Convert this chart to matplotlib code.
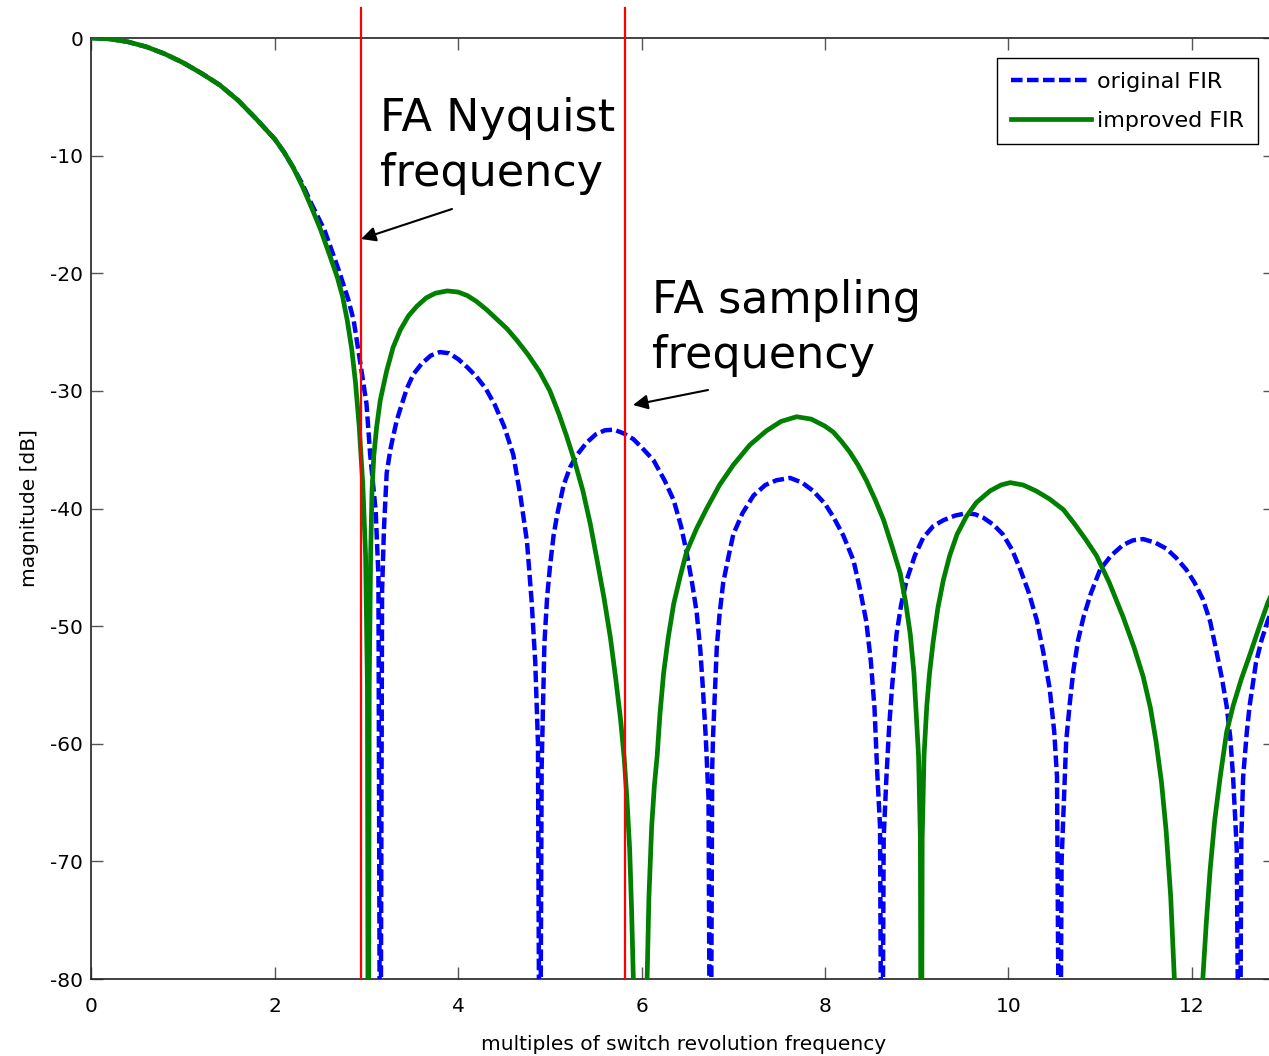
import matplotlib
matplotlib.use("Agg")
import matplotlib.pyplot as plt

# ---------------- data ----------------
orig_x = [0.0, 0.2, 0.4, 0.6, 0.8, 1.0, 1.2, 1.4, 1.6, 1.8, 2.0, 2.1, 2.2, 2.3, 2.4, 2.54,
          2.6, 2.7, 2.8, 2.86, 2.93, 3.00, 3.04, 3.10, 3.13, 3.15,
          3.17, 3.19, 3.22, 3.26, 3.29, 3.33, 3.37, 3.44, 3.51, 3.6, 3.7, 3.8, 3.9, 4.0, 4.1,
          4.2, 4.3, 4.4, 4.5, 4.6, 4.68, 4.75, 4.80, 4.84, 4.87, 4.89,
          4.91, 4.94, 4.97, 5.00, 5.04, 5.08, 5.15, 5.22, 5.29, 5.4, 5.5, 5.6, 5.7, 5.8, 5.91,
          6.0, 6.13, 6.25, 6.35, 6.43, 6.49, 6.55, 6.60, 6.64, 6.67, 6.70, 6.73, 6.75,
          6.77, 6.78, 6.82, 6.85, 6.89, 6.95, 7.00, 7.1, 7.22, 7.35, 7.47, 7.62, 7.75, 7.87,
          8.0, 8.09, 8.2, 8.31, 8.38, 8.45, 8.50, 8.54, 8.57, 8.60, 8.62,
          8.64, 8.67, 8.70, 8.73, 8.78, 8.83, 8.89, 8.98, 9.07, 9.18, 9.29, 9.42, 9.54, 9.64,
          9.73, 9.84, 9.94, 10.04, 10.13, 10.22, 10.31, 10.38, 10.45, 10.50, 10.53, 10.56,
          10.58, 10.60, 10.63, 10.67, 10.71, 10.76, 10.82, 10.9, 11.00, 11.12, 11.25, 11.36,
          11.47, 11.6, 11.72, 11.83, 11.94, 12.03, 12.12, 12.2, 12.27, 12.33, 12.38, 12.42,
          12.45, 12.49, 12.52,
          12.54, 12.56, 12.60, 12.63, 12.67, 12.70, 12.76, 12.83, 12.91]
orig_db = [0.0, -0.08, -0.33, -0.75, -1.35, -2.1, -3.0, -4.0, -5.3, -6.9, -8.6, -9.7, -11.0,
           -12.4, -14.1, -16.3, -17.6, -19.8, -22.2, -24.0, -27.5, -31.1, -35.4, -40.2, -45.7,
           -100.0,
           -47.0, -41.8, -37.0, -35.0, -33.9, -32.5, -31.5, -29.8, -28.6, -27.7, -27.0, -26.7,
           -26.8, -27.3, -28.0, -28.8, -29.8, -31.2, -33.0, -35.4, -39.0, -42.8, -47.8, -53.0,
           -60.0, -100.0,
           -62.0, -51.5, -47.5, -45.0, -42.3, -40.5, -38.0, -36.5, -35.5, -34.4, -33.7, -33.35,
           -33.3, -33.6, -34.1, -34.8, -35.9, -37.6, -39.3, -41.5, -43.7, -46.3, -48.8, -52.0,
           -55.5, -59.5, -64.7, -100.0,
           -62.0, -59.2, -51.8, -49.0, -46.3, -44.0, -42.2, -40.4, -38.9, -38.0, -37.6, -37.4,
           -37.8, -38.5, -39.6, -40.7, -42.3, -44.4, -46.8, -49.6, -53.0, -57.0, -62.5, -67.0,
           -100.0,
           -68.0, -62.8, -58.5, -55.3, -50.7, -48.2, -46.1, -44.0, -42.5, -41.5, -41.0, -40.6,
           -40.4, -40.5, -40.8, -41.4, -42.2, -43.5, -45.2, -47.1, -49.5, -52.2, -55.3, -59.0,
           -62.8, -100.0,
           -70.0, -65.9, -59.8, -56.5, -53.7, -51.2, -49.2, -47.2, -45.2, -44.0, -43.1, -42.7,
           -42.6, -42.9, -43.4, -44.2, -45.2, -46.3, -47.7, -49.6, -52.2, -54.5, -56.8, -59.5,
           -62.8, -68.9, -100.0,
           -68.0, -62.8, -59.0, -56.8, -54.7, -53.1, -51.2, -49.5, -48.0]

impr_x = [0.0, 0.2, 0.4, 0.6, 0.8, 1.0, 1.2, 1.4, 1.6, 1.8, 2.0, 2.1, 2.2, 2.3, 2.4, 2.5,
          2.6, 2.68, 2.74, 2.79, 2.84, 2.88, 2.92, 2.96, 2.99, 3.01, 3.02,
          3.03, 3.045, 3.06, 3.08, 3.11, 3.15, 3.22, 3.29, 3.37, 3.46, 3.55, 3.65, 3.75, 3.88,
          4.0, 4.1, 4.2, 4.31, 4.42, 4.53, 4.64, 4.76, 4.89, 5.0, 5.1, 5.18, 5.27, 5.36, 5.44,
          5.51, 5.59, 5.66, 5.72, 5.77, 5.81, 5.84, 5.87, 5.89, 5.91, 5.98,
          6.06, 6.08, 6.11, 6.14, 6.17, 6.2, 6.24, 6.29, 6.35, 6.42, 6.49, 6.6, 6.71, 6.85,
          7.0, 7.18, 7.36, 7.52, 7.69, 7.85, 8.0, 8.09, 8.18, 8.27, 8.36, 8.45, 8.55, 8.64,
          8.73, 8.82, 8.88, 8.93, 8.97, 8.99, 9.02, 9.04, 9.05,
          9.06, 9.08, 9.11, 9.14, 9.18, 9.23, 9.29, 9.36, 9.44, 9.54, 9.65, 9.8, 9.92, 10.02,
          10.16, 10.3, 10.45, 10.60, 10.72, 10.84, 10.96, 11.1, 11.25, 11.37, 11.47, 11.55,
          11.61, 11.67, 11.72, 11.77, 11.81, 11.96,
          12.12, 12.16, 12.20, 12.25, 12.31, 12.38, 12.45, 12.54, 12.63, 12.73, 12.83, 12.91]
impr_db = [0.0, -0.08, -0.33, -0.75, -1.35, -2.1, -3.0, -4.0, -5.3, -6.9, -8.6, -9.7, -11.0,
           -12.6, -14.4, -16.3, -18.5, -20.3, -22.0, -24.0, -26.5, -29.3, -33.0, -38.0, -44.0,
           -55.0, -100.0,
           -55.0, -44.0, -38.5, -35.5, -33.1, -30.8, -28.3, -26.3, -24.8, -23.6, -22.8, -22.1,
           -21.7, -21.5, -21.6, -21.9, -22.4, -23.1, -23.9, -24.7, -25.7, -26.9, -28.4, -30.0,
           -32.0, -33.8, -36.0, -38.5, -41.3, -44.2, -47.6, -51.0, -54.6, -57.9, -61.2, -64.7,
           -69.0, -73.9, -80.0, -100.0,
           -80.0, -73.0, -67.0, -63.5, -61.0, -57.5, -54.0, -51.0, -48.1, -45.8, -43.7, -41.7,
           -40.0, -38.0, -36.3, -34.6, -33.4, -32.6, -32.2, -32.4, -33.0, -33.5, -34.3, -35.2,
           -36.3, -37.6, -39.3, -41.0, -43.2, -45.5, -48.0, -50.7, -54.0, -56.8, -61.0, -68.0,
           -100.0,
           -68.0, -61.0, -56.8, -54.0, -51.3, -48.5, -46.1, -44.0, -42.2, -40.7, -39.5, -38.5,
           -38.0, -37.8, -38.0, -38.5, -39.2, -40.1, -41.3, -42.6, -44.0, -46.3, -49.2, -51.8,
           -54.3, -57.0, -59.8, -63.3, -67.4, -73.0, -80.0, -95.0,
           -80.0, -75.0, -70.7, -66.5, -62.8, -59.0, -56.8, -54.5, -52.5, -50.2, -48.0, -46.6]

series_labels = ["original FIR", "improved FIR"]
nyquist_x = 2.94
sampling_x = 5.82
xticks = [0, 2, 4, 6, 8, 10, 12]
yticks = [-80, -70, -60, -50, -40, -30, -20, -10, 0]

# ---------------- figure ----------------
W, H = 1269, 1056
plt.rcParams['font.family'] = ['DejaVu Sans']
plt.rcParams['axes.unicode_minus'] = False
fig = plt.figure(figsize=(W / 100, H / 100), dpi=100)

ax_l, ax_r, ax_t, ax_b = 91.4, 1275.0, 38.0, 979.0
ax = fig.add_axes([ax_l / W, (H - ax_b) / H, (ax_r - ax_l) / W, (ax_b - ax_t) / H])
xmax = (ax_r - ax_l) / 91.7
ax.set_xlim(0, xmax)
ax.set_ylim(-80, 0)


def px2data(px, py):
    return (px - ax_l) / 91.7, -80 * (py - ax_t) / (ax_b - ax_t)


ax.plot(orig_x, orig_db, color='#0000ff', lw=3.2, linestyle=(0, (2.6, 1.0)),
        label=series_labels[0], zorder=3)
ax.plot(impr_x, impr_db, color='#007f00', lw=3.4, label=series_labels[1], zorder=3)

top_y = px2data(0, 8)[1]
for xv in (nyquist_x, sampling_x):
    ax.plot([xv, xv], [-80, top_y], color='#ff0000', lw=1.6, clip_on=False, zorder=4)

ax.set_xticks(xticks)
ax.set_yticks(yticks)
ax.tick_params(direction='in', length=8.6, width=1.0, color='#555555',
               top=True, right=True, labelsize=14.5, labelcolor='black')
ax.tick_params(axis='x', pad=13)
ax.tick_params(axis='y', pad=6)
for s in ax.spines.values():
    s.set_linewidth(1.2)
    s.set_color('#222222')

ax.set_xlabel('multiples of switch revolution frequency', fontsize=14.5, labelpad=14)
ax.set_ylabel('magnitude [dB]', fontsize=14.5, labelpad=8)

# annotations (va='baseline' aligns the last line's baseline)
tx, ty = px2data(380, 186)
ax.text(tx, ty, 'FA Nyquist\nfrequency', fontsize=32, ha='left', va='baseline',
        linespacing=1.36)
tx, ty = px2data(652, 368)
ax.text(tx, ty, 'FA sampling\nfrequency', fontsize=32, ha='left', va='baseline',
        linespacing=1.36)

ax.annotate('', xy=px2data(361, 239), xytext=px2data(452, 209),
            arrowprops=dict(arrowstyle='-|>', color='black', lw=1.5, mutation_scale=22,
                            shrinkA=0, shrinkB=0))
ax.annotate('', xy=px2data(633, 405), xytext=px2data(708, 390),
            arrowprops=dict(arrowstyle='-|>', color='black', lw=1.5, mutation_scale=22,
                            shrinkA=0, shrinkB=0))

leg = ax.legend(loc='upper right', bbox_to_anchor=(1258 / W, (H - 58) / H),
                bbox_transform=fig.transFigure, fontsize=16, frameon=True, fancybox=False,
                edgecolor='black', framealpha=1, handlelength=3.6, handletextpad=0.3,
                labelspacing=0.85, borderpad=0.62, borderaxespad=0)
leg.get_frame().set_linewidth(1.0)

fig.savefig('out.png', dpi=100)
